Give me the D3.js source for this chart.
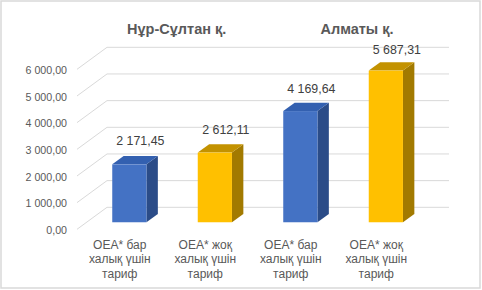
<!DOCTYPE html>
<html>
<head>
<meta charset="utf-8">
<script src="https://cdnjs.cloudflare.com/ajax/libs/d3/7.8.5/d3.min.js"></script>
<style>
  html, body { margin: 0; padding: 0; background: #fff; }
  svg { display: block; font-family: "Liberation Sans", Arial, sans-serif; }
</style>
</head>
<body>
<svg id="chart" width="482" height="290"></svg>
<script>
// ---- data ----
const categories = ["c1", "c2", "c3", "c4"];
const categoryLines = [
  ["ОЕА* бар", "халық үшін", "тариф"],
  ["ОЕА* жоқ", "халық үшін", "тариф"],
  ["ОЕА* бар", "халық үшін", "тариф"],
  ["ОЕА* жоқ", "халық үшін", "тариф"]
];
const values = [2171.45, 2612.11, 4169.64, 5687.31];
const seriesKind = ["bar", "nobar", "bar", "nobar"];
const groupTitles = ["Нұр-Сұлтан қ.", "Алматы қ."];
const tickValues = [0, 1000, 2000, 3000, 4000, 5000, 6000];

// ---- styles ----
const colors = {
  bar:   { front: "#4472c4", top: "#3360b0", side: "#2b4c88" },
  nobar: { front: "#ffc000", top: "#c39200", side: "#a27a00" }
};

const locale = d3.formatLocale({ decimal: ",", thousands: " ", grouping: [3], currency: ["", ""] });
const fmt = locale.format(",.2f");

const svg = d3.select("#chart");

// chart border
svg.append("rect")
  .attr("x", 1).attr("y", 1).attr("width", 479).attr("height", 287)
  .attr("fill", "#fff").attr("stroke", "#d9d9d9").attr("stroke-width", 1.5);

// pseudo-3D geometry: front plane scales + depth offset
const x = d3.scaleBand().domain(categories).range([77, 419]).paddingInner(0).paddingOuter(0);
const y = d3.scaleLinear().domain([0, 6000]).range([229.3, 69.3]);
const DX = 30, DY = -22;          // full depth offset
const dFront = 0.32, dBack = 0.70; // bar depth positions
const off = d => [DX * d, DY * d];

const grid = svg.append("g");
tickValues.forEach(t => {
  const y0 = y(t);
  // side wall diagonal
  grid.append("line")
    .attr("x1", 77).attr("y1", y0)
    .attr("x2", 77 + DX).attr("y2", y0 + DY)
    .attr("stroke", "#d9d9d9").attr("stroke-width", 1);
  // back wall horizontal
  grid.append("line")
    .attr("x1", 77 + DX).attr("y1", y0 + DY)
    .attr("x2", 419 + DX).attr("y2", y0 + DY)
    .attr("stroke", "#d9d9d9").attr("stroke-width", 1);
});

// y tick labels
svg.append("g").selectAll("text").data(tickValues).join("text")
  .attr("x", 67).attr("y", d => y(d) + 1)
  .attr("dy", "0.35em")
  .attr("text-anchor", "end")
  .attr("font-size", "10.67px")
  .attr("fill", "#595959")
  .text(d => fmt(d));

// bars
const bw = x.bandwidth() * 0.4;
const bars = svg.append("g");
categories.forEach((c, i) => {
  const col = colors[seriesKind[i]];
  const cx = x(c) + x.bandwidth() / 2;
  const [fx, fy] = off(dFront);
  const [bx, by] = off(dBack);
  const xl = cx - bw / 2 + fx, xr = cx + bw / 2 + fx;
  const yt = y(values[i]) + fy, yb = y(0) + fy;
  const ddx = bx - fx, ddy = by - fy;
  // side face
  bars.append("path")
    .attr("d", `M${xr},${yt}L${xr + ddx},${yt + ddy}L${xr + ddx},${yb + ddy}L${xr},${yb}Z`)
    .attr("fill", col.side);
  // top face
  bars.append("path")
    .attr("d", `M${xl},${yt}L${xl + ddx},${yt + ddy}L${xr + ddx},${yt + ddy}L${xr},${yt}Z`)
    .attr("fill", col.top);
  // front face
  bars.append("rect")
    .attr("x", xl).attr("y", yt).attr("width", bw).attr("height", yb - yt)
    .attr("fill", col.front);
  // value label
  const shift = 16.5 + 4 * (1 - values[i] / 6000);
  bars.append("text")
    .attr("x", cx + fx + 11).attr("y", yt - shift)
    .attr("text-anchor", "middle")
    .attr("font-size", "12.4px")
    .attr("fill", "#404040")
    .text(fmt(values[i]));
});

// category labels
const cat = svg.append("g");
categories.forEach((c, i) => {
  const t = cat.append("text")
    .attr("text-anchor", "middle")
    .attr("font-size", "12px")
    .attr("fill", "#595959");
  categoryLines[i].forEach((ln, j) => {
    t.append("tspan")
      .attr("x", x(c) + x.bandwidth() / 2)
      .attr("y", 249 + j * 14.3)
      .text(ln);
  });
});

// group titles
const titleX = [176.7, 357];
svg.append("g").selectAll("text").data(groupTitles).join("text")
  .attr("x", (d, i) => titleX[i]).attr("y", 33.5)
  .attr("text-anchor", "middle")
  .attr("font-size", "14.5px")
  .attr("font-weight", "bold")
  .attr("fill", "#595959")
  .text(d => d);
</script>
</body>
</html>
